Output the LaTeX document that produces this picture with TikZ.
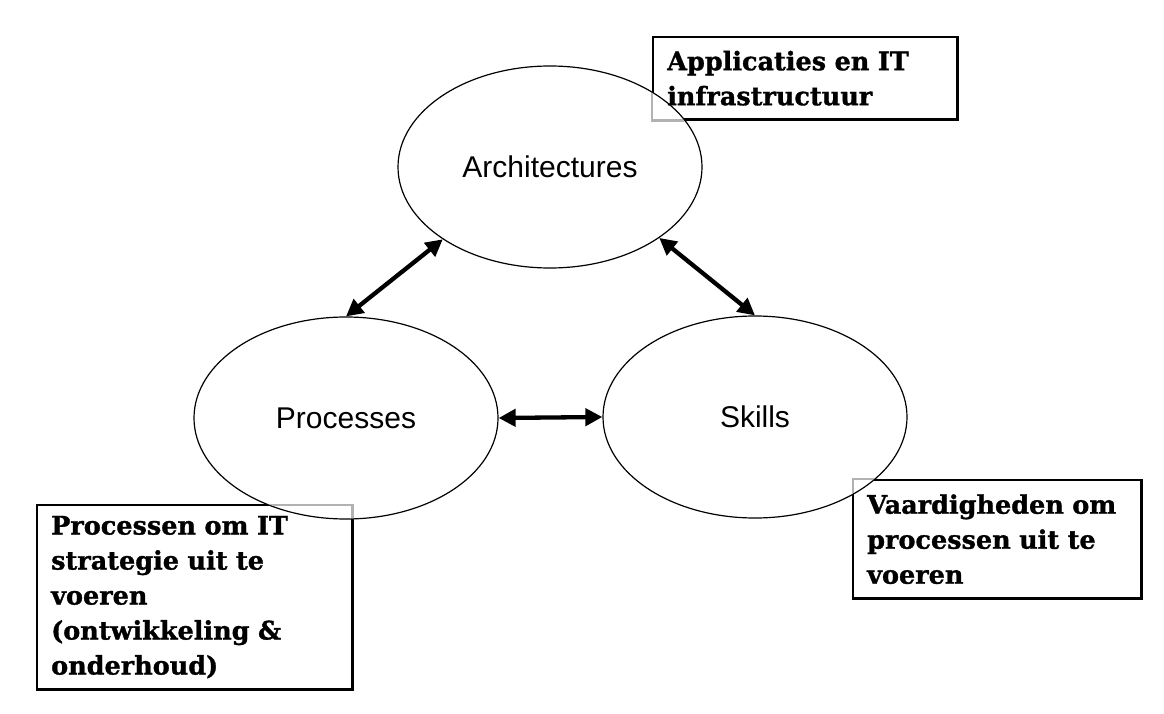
\documentclass[tikz,border=0pt]{standalone}
\usepackage{fontspec}
\setmainfont{Liberation Sans}
\newfontfamily\boxfont[BoldFeatures={FakeBold=1.2}]{DejaVu Serif}
\usetikzlibrary{arrows.meta,shapes.geometric}
\pgfdeclarelayer{bg}
\pgfdeclarelayer{mid}
\pgfsetlayers{bg,mid,main}
\begin{document}
\begin{tikzpicture}[x=1pt,y=-1pt,
  oval/.style={ellipse, draw, line width=1.2pt, fill=white, minimum width=304pt,
    minimum height=202pt, inner sep=0pt, font=\fontsize{30}{36}\selectfont},
  note/.style={anchor=north west, align=left, inner xsep=14pt, inner ysep=0pt,
    font=\boxfont\bfseries\fontsize{25.5}{35}\selectfont},
  frame/.style={draw=black, line width=2.5pt},
  ghostframe/.style={draw=black!30, line width=2.5pt},
  link/.style={{Triangle[length=17pt,width=17pt]}-{Triangle[length=17pt,width=17pt]}, line width=4.3pt}
]
\useasboundingbox (0,0) rectangle (1164,714);

% text boxes (text on main layer)
\node[note, text width=276pt, minimum height=82pt] (b1) at (653,37)
  {Applicaties en IT\\infrastructuur};
\node[note, text width=287pt, minimum height=184pt] (b2) at (37,505)
  {Processen om IT\\strategie uit te\\voeren\\(ontwikkeling \&\\onderhoud)};
\node[note, text width=260pt, minimum height=118pt] (b3) at (853,480)
  {Vaardigheden om\\processen uit te\\voeren};

\begin{pgfonlayer}{bg}
  \draw[frame] (b1.north west) rectangle (b1.south east);
  \draw[frame] (b2.north west) rectangle (b2.south east);
  \draw[frame] (b3.north west) rectangle (b3.south east);
\end{pgfonlayer}

\begin{pgfonlayer}{mid}
  \node[oval] (arch) at (550,167) {Architectures};
  \node[oval] (proc) at (346,418) {Processes};
  \node[oval] (skill) at (755,417) {Skills};
  \begin{scope}
    \clip (arch.center) ellipse [x radius=151pt, y radius=100pt];
    \draw[ghostframe] ([xshift=-1pt,yshift=-1pt]b1.north west) rectangle ([xshift=-1pt,yshift=-1pt]b1.south east);
  \end{scope}
  \begin{scope}
    \clip (proc.center) ellipse [x radius=151pt, y radius=100pt];
    \draw[ghostframe] (b2.north west) rectangle (b2.south east);
  \end{scope}
  \begin{scope}
    \clip (skill.center) ellipse [x radius=151pt, y radius=100pt];
    \draw[ghostframe] ([yshift=1pt]b3.north west) rectangle ([yshift=1pt]b3.south east);
  \end{scope}
\end{pgfonlayer}

\draw[link] (arch.214) -- (proc.north);
\draw[link] (arch.327) -- (skill.north);
\draw[link] (proc.east) -- (skill.west);
\end{tikzpicture}
\end{document}
